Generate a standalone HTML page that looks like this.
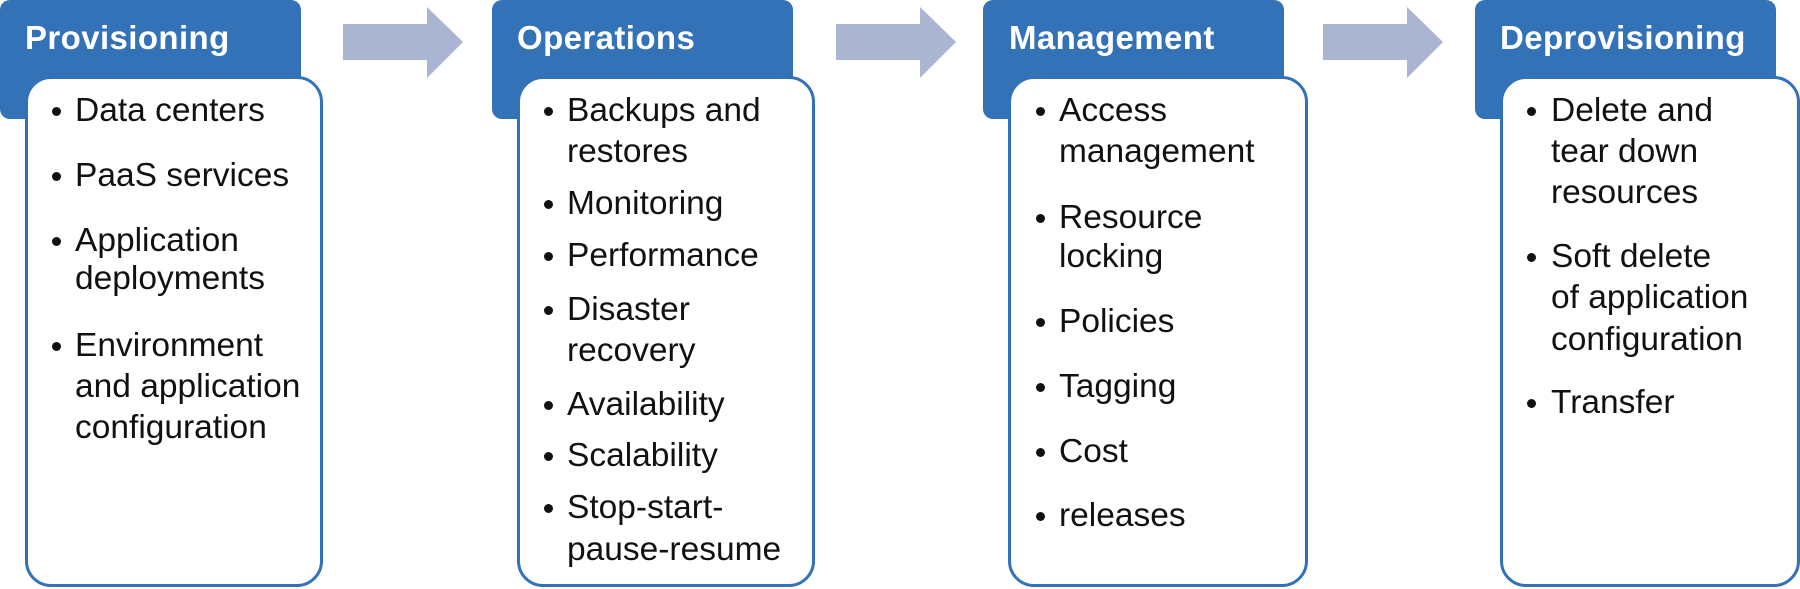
<!DOCTYPE html>
<html><head><meta charset="utf-8"><style>
body{margin:0;width:1800px;height:589px;background:#fff;position:relative;overflow:hidden;font-family:"Liberation Sans",Arial,sans-serif}
.h{position:absolute;top:0;width:301px;height:119px;background:#3372b7;border-radius:10px}
.ht{position:absolute;color:#fff;font-weight:bold;font-size:33px;letter-spacing:0.4px;line-height:33px;top:21px;white-space:nowrap}
.b{position:absolute;top:76px;width:292px;height:505px;background:#fff;border:3px solid #3372b7;border-radius:26px}
.l{position:absolute;font-size:33.5px;line-height:33.5px;color:#111;white-space:nowrap}
.d{position:absolute;width:9px;height:9px;border-radius:50%;background:#111}
</style></head><body>
<svg style="position:absolute;left:0;top:0" width="1800" height="589">
<g fill="#a9b5d1">
<polygon points="343,24 427,24 427,7 463,42 427,78 427,60 343,60"/>
<polygon points="836,24 920,24 920,7 956,42 920,78 920,60 836,60"/>
<polygon points="1323,24 1407,24 1407,7 1443,42 1407,78 1407,60 1323,60"/>
</g></svg>

<div class="h" style="left:0"></div><div class="ht" style="left:25px">Provisioning</div>
<div class="b" style="left:25px"></div>
<div class="h" style="left:492px"></div><div class="ht" style="left:517px">Operations</div>
<div class="b" style="left:517px"></div>
<div class="h" style="left:983px"></div><div class="ht" style="left:1009px">Management</div>
<div class="b" style="left:1008px;width:294px"></div>
<div class="h" style="left:1475px"></div><div class="ht" style="left:1500px">Deprovisioning</div>
<div class="b" style="left:1500px;width:294px"></div>

<!-- Provisioning -->
<div class="d" style="left:52px;top:107px"></div><div class="l" style="left:75px;top:94px">Data centers</div>
<div class="d" style="left:52px;top:172px"></div><div class="l" style="left:75px;top:159px">PaaS services</div>
<div class="d" style="left:52px;top:237px"></div><div class="l" style="left:75px;top:224px">Application</div>
<div class="l" style="left:75px;top:262px">deployments</div>
<div class="d" style="left:52px;top:342px"></div><div class="l" style="left:75px;top:329px">Environment</div>
<div class="l" style="left:75px;top:370px">and application</div>
<div class="l" style="left:75px;top:411px">configuration</div>

<!-- Operations -->
<div class="d" style="left:544px;top:107px"></div><div class="l" style="left:567px;top:94px">Backups and</div>
<div class="l" style="left:567px;top:135px">restores</div>
<div class="d" style="left:544px;top:200px"></div><div class="l" style="left:567px;top:187px">Monitoring</div>
<div class="d" style="left:544px;top:252px"></div><div class="l" style="left:567px;top:239px">Performance</div>
<div class="d" style="left:544px;top:306px"></div><div class="l" style="left:567px;top:293px">Disaster</div>
<div class="l" style="left:567px;top:334px">recovery</div>
<div class="d" style="left:544px;top:401px"></div><div class="l" style="left:567px;top:388px">Availability</div>
<div class="d" style="left:544px;top:452px"></div><div class="l" style="left:567px;top:439px">Scalability</div>
<div class="d" style="left:544px;top:504px"></div><div class="l" style="left:567px;top:491px">Stop-start-</div>
<div class="l" style="left:567px;top:533px">pause-resume</div>

<!-- Management -->
<div class="d" style="left:1036px;top:107px"></div><div class="l" style="left:1059px;top:94px">Access</div>
<div class="l" style="left:1059px;top:135px">management</div>
<div class="d" style="left:1036px;top:214px"></div><div class="l" style="left:1059px;top:201px">Resource</div>
<div class="l" style="left:1059px;top:240px">locking</div>
<div class="d" style="left:1036px;top:318px"></div><div class="l" style="left:1059px;top:305px">Policies</div>
<div class="d" style="left:1036px;top:383px"></div><div class="l" style="left:1059px;top:370px">Tagging</div>
<div class="d" style="left:1036px;top:448px"></div><div class="l" style="left:1059px;top:435px">Cost</div>
<div class="d" style="left:1036px;top:512px"></div><div class="l" style="left:1059px;top:499px">releases</div>

<!-- Deprovisioning -->
<div class="d" style="left:1527px;top:107px"></div><div class="l" style="left:1551px;top:94px">Delete and</div>
<div class="l" style="left:1551px;top:135px">tear down</div>
<div class="l" style="left:1551px;top:176px">resources</div>
<div class="d" style="left:1527px;top:253px"></div><div class="l" style="left:1551px;top:240px">Soft delete</div>
<div class="l" style="left:1551px;top:281px">of application</div>
<div class="l" style="left:1551px;top:323px">configuration</div>
<div class="d" style="left:1527px;top:399px"></div><div class="l" style="left:1551px;top:386px">Transfer</div>
</body></html>
